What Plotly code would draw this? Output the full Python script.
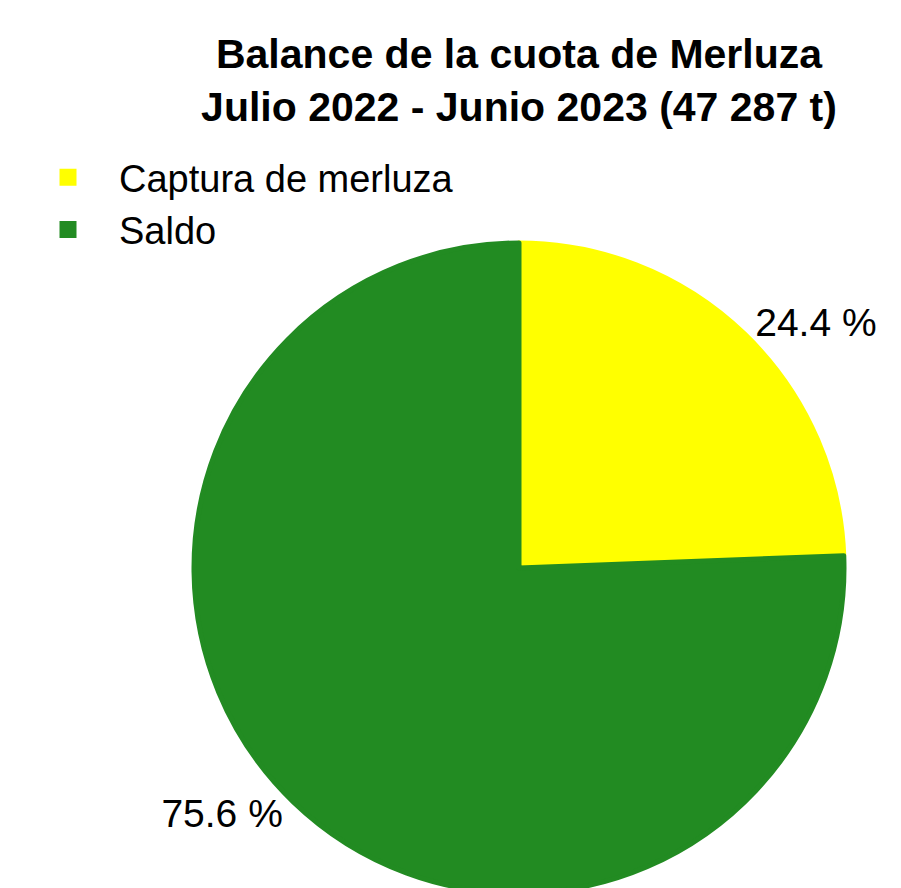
import plotly.graph_objects as go

categories = ["Captura de merluza", "Saldo"]
percentages = [24.4, 75.6]
colors = ["#FFFF00", "#228B22"]
title_lines = ["Balance de la cuota de Merluza", "Julio 2022 - Junio 2023 (47 287 t)"]

W, H = 901, 900
labels_text = [f"{p:.1f} %" for p in percentages]

fig = go.Figure(
    go.Pie(
        labels=categories,
        values=percentages,
        text=labels_text,
        textinfo="text",
        textposition="outside",
        textfont=dict(family="Liberation Sans, Arial", size=39, color="#000000"),
        marker=dict(colors=colors, line=dict(color=colors, width=5)),
        sort=False,
        direction="clockwise",
        rotation=0,
        hoverinfo="none",
        domain=dict(x=[194 / W, 844 / W], y=[1 - 893 / H, 1 - 243 / H]),
    )
)

fig.update_layout(
    width=W,
    height=H,
    margin=dict(l=0, r=0, t=0, b=0),
    paper_bgcolor="white",
    plot_bgcolor="white",
    title=dict(
        text="<br>".join(title_lines),
        x=519 / W,
        xanchor="center",
        xref="paper",
        y=1 - 68 / H,
        yanchor="top",
        yref="container",
        font=dict(family="Liberation Sans, Arial", size=41, color="#000000", weight="bold"),
    ),
    legend=dict(
        x=17 / W,
        y=1 - 146 / H,
        xanchor="left",
        yanchor="top",
        font=dict(family="Liberation Sans, Arial", size=38, color="#000000"),
        itemwidth=92,
        bgcolor="rgba(0,0,0,0)",
    ),
    showlegend=True,
)

fig.write_html(
    "out.html",
    config={"displayModeBar": False},
    post_script="document.body.style.margin='0';document.body.style.overflow='hidden';",
)
